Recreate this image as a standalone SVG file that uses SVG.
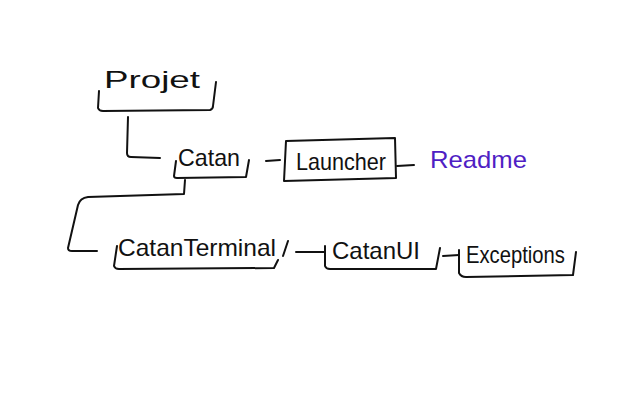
<svg xmlns="http://www.w3.org/2000/svg" width="640" height="400" viewBox="0 0 640 400">
<style>
.ln{fill:none;stroke:#111;stroke-width:2;stroke-linecap:round;stroke-linejoin:round}
.t{font-family:"Liberation Sans","DejaVu Sans",sans-serif;font-size:24px;fill:#111}
.rd{fill:#4f1ec4}
</style>
<rect width="640" height="400" fill="#fff"/>
<g id="projet">
<text class="t" x="104" y="88" font-size="32" textLength="96" lengthAdjust="spacingAndGlyphs">Projet</text>
<path class="ln" d="M99,91 L98,108 Q99,111 103,111 L210,110 Q213,109 213,106 L216,82"/>
</g>
<g id="catan">
<text class="t" x="178" y="166" textLength="62" lengthAdjust="spacingAndGlyphs">Catan</text>
<path class="ln" d="M176,161 L174,176 Q174,178 177,178 L246,177 L249,160"/>
</g>
<g id="launcher">
<path class="ln" d="M286,141 L395,138 L396,178 L284,181 Z"/>
<text class="t" x="296" y="170" textLength="90" lengthAdjust="spacingAndGlyphs">Launcher</text>
</g>
<g id="readme">
<text class="t rd" x="430" y="168" textLength="97" lengthAdjust="spacingAndGlyphs">Readme</text>
</g>
<g id="catanterminal">
<text class="t" x="118" y="256" textLength="158" lengthAdjust="spacingAndGlyphs">CatanTerminal</text>
<path class="ln" d="M117,246 L114,266 Q115,269 119,269 L274,268 L278,260"/>
</g>
<g id="catanui">
<text class="t" x="332" y="259" textLength="88" lengthAdjust="spacingAndGlyphs">CatanUI</text>
<path class="ln" d="M325,246 L325,266 Q326,269 330,269 L436,269 L440,248"/>
</g>
<g id="exceptions">
<text class="t" x="466" y="263" textLength="99" lengthAdjust="spacingAndGlyphs">Exceptions</text>
<path class="ln" d="M459,250 L459,273 Q461,277 466,277 L573,275 L576,252"/>
</g>
<g id="connectors">
<path class="ln" d="M128,117 L127,153 Q127,157 131,157 L160,158"/>
<path class="ln" d="M266,161 L280,160"/>
<path class="ln" d="M397,166 L414,165"/>
<path class="ln" d="M185,180 L184,194 L88,197 Q80,198 78,205 L68,248 Q68,251 72,251 L97,251"/>
<path class="ln" d="M283,256 L288,241"/>
<path class="ln" d="M296,252 L325,252"/>
<path class="ln" d="M443,256 L459,255"/>
</g>
</svg>
